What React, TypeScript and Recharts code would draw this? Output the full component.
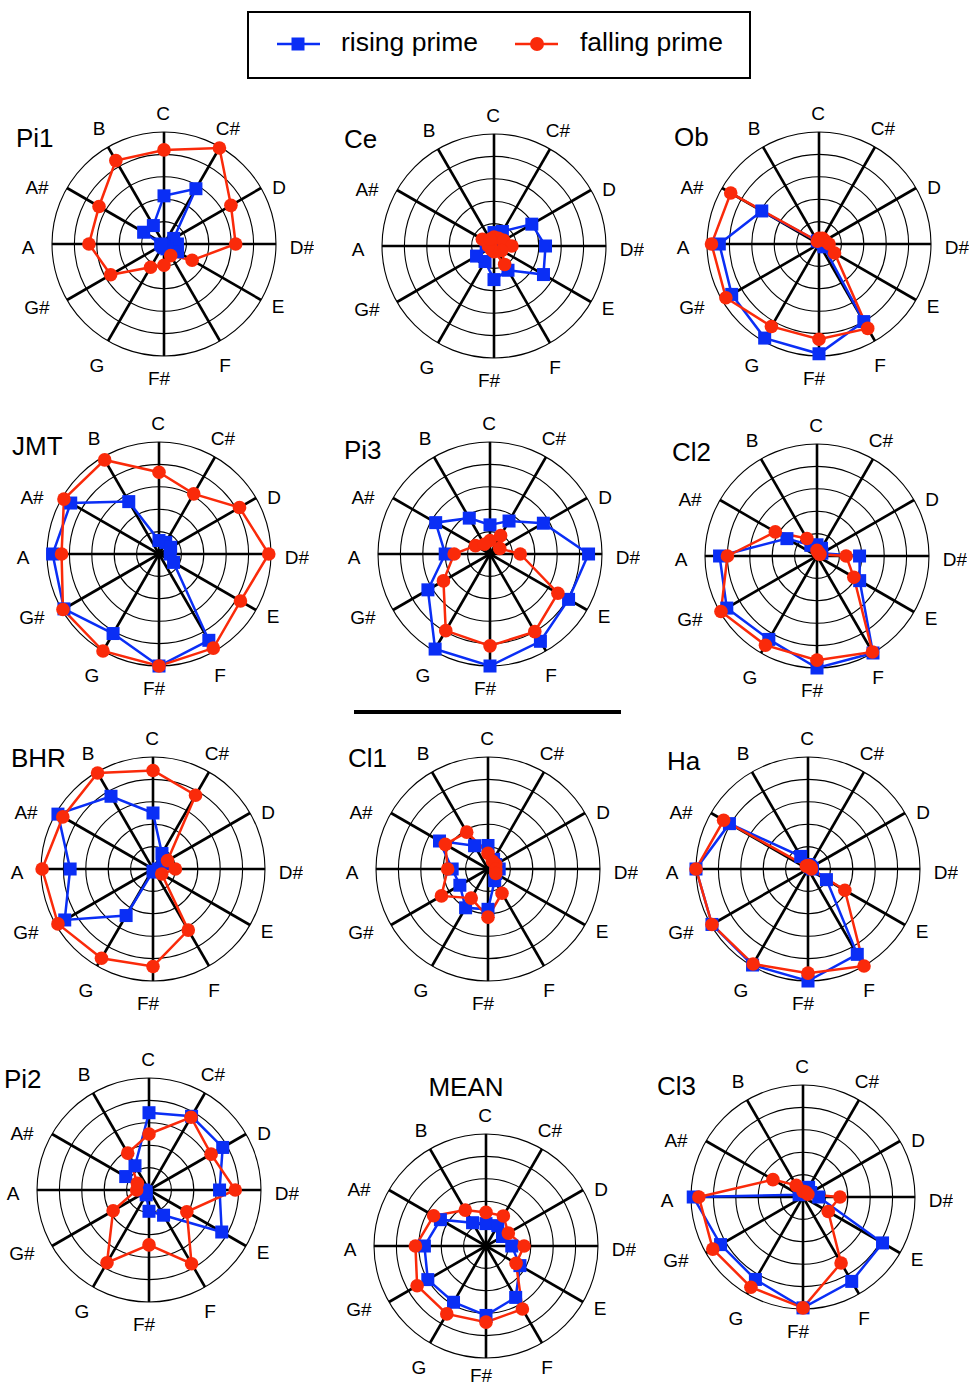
import React from 'react';
import { RadarChart, Radar, PolarGrid, PolarAngleAxis, PolarRadiusAxis } from 'recharts';

const PITCHES = ['C', 'C#', 'D', 'D#', 'E', 'F', 'F#', 'G', 'G#', 'A', 'A#', 'B'];
const RING_STEPS = [0.2, 0.4, 0.6, 0.8, 1.0];

// values per pitch class, C..B, outer ring = 1
const pi1Rising = [0.43, 0.57, 0.1, 0.12, 0.14, 0.05, 0.03, 0.02, 0.02, 0.03, 0.21, 0.19];
const pi1Falling = [0.84, 0.99, 0.69, 0.64, 0.29, 0.12, 0.19, 0.24, 0.55, 0.67, 0.67, 0.86];
const ceRising = [0.12, 0.15, 0.39, 0.46, 0.51, 0.25, 0.3, 0.16, 0.18, 0.07, 0.05, 0.05];
const ceFalling = [0.08, 0.08, 0.1, 0.16, 0.08, 0.19, 0.05, 0.04, 0.03, 0.05, 0.12, 0.07];
const obRising = [0.03, 0.03, 0.03, 0.04, 0.05, 0.8, 0.98, 0.97, 0.9, 0.89, 0.59, 0.03];
const obFalling = [0.05, 0.06, 0.06, 0.09, 0.16, 0.87, 0.85, 0.85, 0.96, 0.96, 0.91, 0.03];
const jmtRising = [0.12, 0.12, 0.12, 0.1, 0.15, 0.89, 1.0, 0.82, 0.98, 0.95, 0.91, 0.54];
const jmtFalling = [0.73, 0.62, 0.83, 0.98, 0.84, 0.97, 1.0, 1.0, 0.99, 0.87, 0.98, 0.97];
const pi3Rising = [0.26, 0.34, 0.55, 0.88, 0.81, 0.9, 1.0, 0.98, 0.64, 0.4, 0.56, 0.37];
const pi3Falling = [0.12, 0.19, 0.1, 0.27, 0.7, 0.8, 0.82, 0.79, 0.48, 0.32, 0.15, 0.1];
const cl2Rising = [0.1, 0.08, 0.05, 0.38, 0.44, 1.0, 1.0, 0.86, 0.93, 0.87, 0.31, 0.11];
const cl2Falling = [0.05, 0.03, 0.03, 0.26, 0.38, 0.99, 0.93, 0.92, 0.99, 0.8, 0.43, 0.18];
const bhrRising = [0.5, 0.16, 0.1, 0.05, 0.05, 0.03, 0.02, 0.48, 0.91, 0.74, 0.98, 0.75];
const bhrFalling = [0.88, 0.76, 0.15, 0.2, 0.09, 0.63, 0.87, 0.92, 0.98, 0.99, 0.93, 0.99];
const cl1Rising = [0.21, 0.1, 0.08, 0.1, 0.08, 0.12, 0.36, 0.4, 0.29, 0.32, 0.5, 0.24];
const cl1Falling = [0.14, 0.08, 0.08, 0.07, 0.08, 0.25, 0.43, 0.3, 0.48, 0.36, 0.44, 0.38];
const haRising = [0.04, 0.03, 0.03, 0.04, 0.19, 0.88, 1.0, 0.99, 0.99, 1.0, 0.81, 0.13];
const haFalling = [0.03, 0.03, 0.03, 0.03, 0.38, 1.0, 0.93, 0.98, 0.99, 1.0, 0.87, 0.03];
const pi2Rising = [0.69, 0.76, 0.76, 0.63, 0.75, 0.26, 0.19, 0.05, 0.03, 0.05, 0.24, 0.25];
const pi2Falling = [0.5, 0.75, 0.64, 0.77, 0.39, 0.76, 0.49, 0.75, 0.37, 0.11, 0.12, 0.38];
const meanRising = [0.2, 0.21, 0.17, 0.23, 0.35, 0.53, 0.62, 0.58, 0.6, 0.55, 0.47, 0.24];
const meanFalling = [0.3, 0.31, 0.23, 0.34, 0.31, 0.65, 0.68, 0.7, 0.71, 0.63, 0.54, 0.37];
const cl3Rising = [0.06, 0.1, 0.08, 0.14, 0.82, 0.87, 0.99, 0.85, 0.85, 0.98, 0.04, 0.04];
const cl3Falling = [0.05, 0.05, 0.05, 0.33, 0.26, 0.68, 0.99, 0.93, 0.93, 0.93, 0.31, 0.12];

const BLUE = '#0a2ef5';
const RED = '#fa2a0a';
const FONT = '"Liberation Sans", Arial, Helvetica, sans-serif';
const SIZE = 300;
const R = 112;

// where each pitch label sits, relative to the plot centre
const LABEL_OFFSETS: [number, number][] = [
  [-1, -131], [64, -116], [115, -57], [138, 3], [114, 62], [61, 121],
  [-5, 134], [-67, 121], [-127, 63], [-136, 3], [-127, -57], [-65, -116],
];

// layout: centre of each polar plot and where its title sits
const panels = [
  { name: 'Pi1', rising: pi1Rising, falling: pi1Falling, cx: 164, cy: 244, tx: 16, ty: 147 },
  { name: 'Ce', rising: ceRising, falling: ceFalling, cx: 494, cy: 246, tx: 344, ty: 148 },
  { name: 'Ob', rising: obRising, falling: obFalling, cx: 819, cy: 244, tx: 674, ty: 146 },
  { name: 'JMT', rising: jmtRising, falling: jmtFalling, cx: 159, cy: 554, tx: 12, ty: 455 },
  { name: 'Pi3', rising: pi3Rising, falling: pi3Falling, cx: 490, cy: 554, tx: 344, ty: 459 },
  { name: 'Cl2', rising: cl2Rising, falling: cl2Falling, cx: 817, cy: 556, tx: 672, ty: 461 },
  { name: 'BHR', rising: bhrRising, falling: bhrFalling, cx: 153, cy: 869, tx: 11, ty: 767 },
  { name: 'Cl1', rising: cl1Rising, falling: cl1Falling, cx: 488, cy: 869, tx: 348, ty: 767 },
  { name: 'Ha', rising: haRising, falling: haFalling, cx: 808, cy: 869, tx: 667, ty: 770 },
  { name: 'Pi2', rising: pi2Rising, falling: pi2Falling, cx: 149, cy: 1190, tx: 4, ty: 1088 },
  { name: 'MEAN', rising: meanRising, falling: meanFalling, cx: 486, cy: 1246, tx: 466, ty: 1096, center: true, lift: 5 },
  { name: 'Cl3', rising: cl3Rising, falling: cl3Falling, cx: 803, cy: 1197, tx: 657, ty: 1095 },
];

const SquareDot = (props: any) => {
  const { cx, cy } = props;
  if (cx == null || cy == null) return <g />;
  return <rect x={cx - 6.5} y={cy - 6.5} width={13} height={13} fill={BLUE} />;
};

const CircleDot = (props: any) => {
  const { cx, cy } = props;
  if (cx == null || cy == null) return <g />;
  return <circle cx={cx} cy={cy} r={6.8} fill={RED} />;
};

const makePitchTick = (lift: number) => (props: any) => {
  const label = String(props.payload?.value ?? '');
  const i = PITCHES.indexOf(label);
  const [dx, dy] = LABEL_OFFSETS[i] ?? [0, 0];
  // the bottom label of the last row sits right on the page edge
  const y = SIZE / 2 + dy - (label === 'F#' ? lift : 0);
  return (
    <text
      x={SIZE / 2 + dx}
      y={y}
      textAnchor="middle"
      dominantBaseline="central"
      fontSize={19}
      fontFamily={FONT}
      fill="#000"
    >
      {label}
    </text>
  );
};

function Panel({ rising, falling, lift = 0 }: { rising: number[]; falling: number[]; lift?: number }) {
  const data = PITCHES.map((p, i) => ({ pitch: p, rising: rising[i], falling: falling[i] }));
  return (
    <RadarChart
      width={SIZE}
      height={SIZE}
      cx={SIZE / 2}
      cy={SIZE / 2}
      outerRadius={R}
      data={data}
      margin={{ top: 0, right: 0, bottom: 0, left: 0 }}
    >
      <PolarGrid
        gridType="circle"
        radialLines={false}
        polarRadius={RING_STEPS.map((v) => v * R)}
        stroke="#000"
        strokeWidth={1.1}
      />
      <PolarGrid gridType="circle" polarRadius={[]} stroke="#000" strokeWidth={2.6} />
      <PolarAngleAxis dataKey="pitch" tick={makePitchTick(lift)} axisLine={false} tickLine={false} />
      <PolarRadiusAxis type="number" domain={[0, 1]} tickCount={6} tick={false} axisLine={false} />
      <Radar
        dataKey="rising"
        stroke={BLUE}
        strokeWidth={2.5}
        fill="none"
        fillOpacity={0}
        dot={SquareDot}
        isAnimationActive={false}
      />
      <Radar
        dataKey="falling"
        stroke={RED}
        strokeWidth={2.5}
        fill="none"
        fillOpacity={0}
        dot={CircleDot}
        isAnimationActive={false}
      />
    </RadarChart>
  );
}

export default function App() {
  return (
    <div style={{ position: 'absolute', left: 0, top: 0, width: 973, height: 1387, background: '#fff', overflow: 'hidden' }}>
      <svg width={973} height={1387} style={{ position: 'absolute', left: 0, top: 0 }}>
        <rect x={248} y={12} width={502} height={66} fill="none" stroke="#000" strokeWidth={2} />
        <line x1={277} x2={320} y1={44} y2={44} stroke={BLUE} strokeWidth={2.5} />
        <rect x={291.5} y={37.5} width={13} height={13} fill={BLUE} />
        <text x={341} y={51} fontSize={26.5} fontFamily={FONT} fill="#000">rising prime</text>
        <line x1={515} x2={558} y1={44} y2={44} stroke={RED} strokeWidth={2.5} />
        <circle cx={537} cy={44} r={7} fill={RED} />
        <text x={580} y={51} fontSize={26.5} fontFamily={FONT} fill="#000">falling prime</text>
        <line x1={354} x2={621} y1={712} y2={712} stroke="#000" strokeWidth={4} />
        {panels.map((p) => (
          <text
            key={p.name}
            x={p.tx}
            y={p.ty}
            fontSize={26}
            fontFamily={FONT}
            textAnchor={p.center ? 'middle' : 'start'}
            fill="#000"
          >
            {p.name}
          </text>
        ))}
      </svg>
      {panels.map((p) => (
        <div
          key={p.name}
          style={{ position: 'absolute', left: p.cx - SIZE / 2, top: p.cy - SIZE / 2, width: SIZE, height: SIZE }}
        >
          <Panel rising={p.rising} falling={p.falling} lift={p.lift ?? 0} />
        </div>
      ))}
    </div>
  );
}
